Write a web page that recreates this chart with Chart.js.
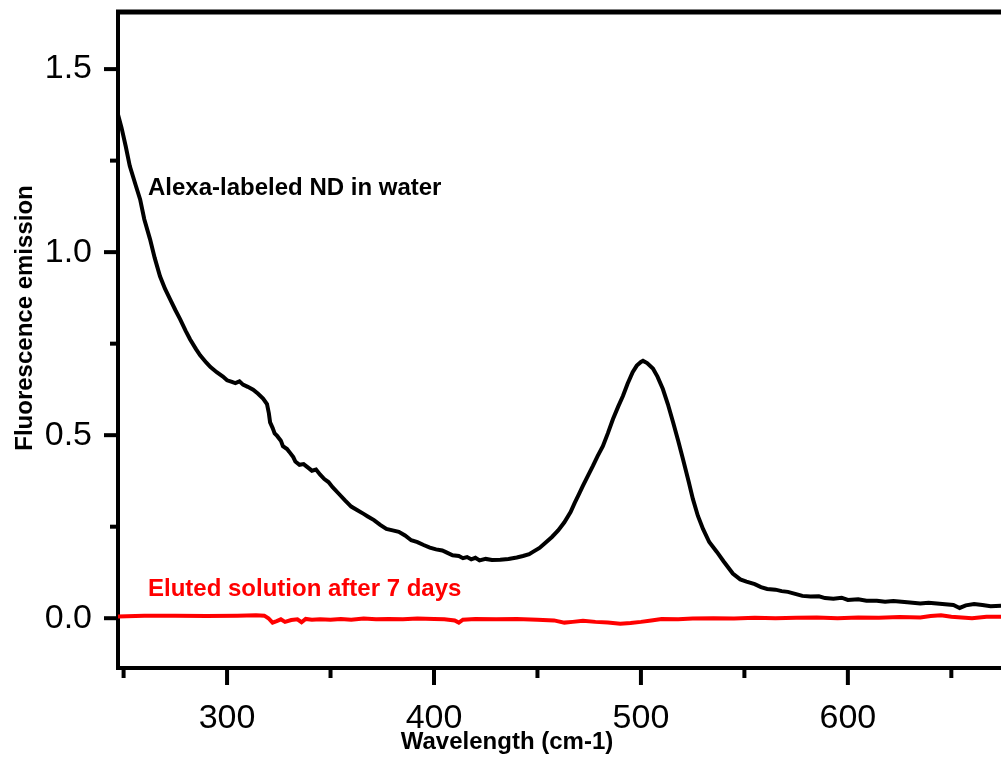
<!DOCTYPE html>
<html lang="en">
<head>
    <meta charset="UTF-8">
    <title>Fluorescence emission</title>
    <script src="https://cdn.jsdelivr.net/npm/chart.js"></script>
    <style>
        html, body { margin: 0; padding: 0; background: #fff; overflow: hidden; }
        #wrap { position: relative; width: 1001px; height: 757px; }
    </style>
</head>
<body>
    <div id="wrap"><canvas id="chart" width="1001" height="757"></canvas></div>

    <script>
        // Alexa-labeled ND in water (black trace)
        const alexaX = [247.3, 249, 251, 253, 256, 258, 260, 262.8, 265, 267.6, 270, 272.5, 275, 277.3, 280, 282.1,
            285, 287, 290, 292, 295, 298, 300, 302, 304, 306, 307.7, 310, 312.6, 315, 317.4, 319.3, 320.2, 320.8,
            322, 323, 324.2, 326, 327, 329, 330, 332, 333, 335, 337, 339, 341, 343, 345, 347, 349, 351, 354, 357,
            360, 363, 366, 368, 371, 374, 377, 380, 383, 386, 389, 392, 395, 398, 401, 404, 406, 409, 412, 414,
            416, 418, 420, 422, 425, 428, 432, 436, 440, 443, 446, 448, 451, 454, 457, 460, 463, 466, 468, 470,
            472, 474, 476.8, 479, 481.6, 484, 486.5, 489, 491.3, 493.5, 496, 498, 500, 501, 503, 505.8, 508, 510.6,
            513, 515.5, 518, 520.3, 523, 525.1, 527.5, 530, 533, 536.7, 540, 544.4, 548, 551, 555, 558, 561, 565,
            568, 571, 575, 578, 582, 586, 589, 593, 597, 600, 605, 609, 614, 618, 622, 626, 630, 635, 639, 643,
            647, 651, 654, 657, 661, 665, 669, 674];
        const alexaY = [1.376, 1.34, 1.29, 1.235, 1.18, 1.144, 1.09, 1.035, 0.985, 0.934, 0.90, 0.871, 0.842, 0.817, 0.785, 0.762,
            0.735, 0.718, 0.698, 0.686, 0.672, 0.660, 0.650, 0.646, 0.642, 0.647, 0.638, 0.632, 0.624, 0.613, 0.600, 0.585, 0.560, 0.535,
            0.520, 0.505, 0.498, 0.485, 0.470, 0.462, 0.455, 0.440, 0.428, 0.419, 0.421, 0.412, 0.403, 0.406, 0.392, 0.380, 0.372, 0.358, 0.340, 0.322,
            0.305, 0.295, 0.285, 0.278, 0.268, 0.255, 0.244, 0.240, 0.236, 0.226, 0.213, 0.208, 0.200, 0.193, 0.188, 0.185, 0.180, 0.172, 0.170, 0.164,
            0.167, 0.161, 0.165, 0.158, 0.162, 0.159, 0.160, 0.162, 0.166, 0.170, 0.175, 0.182, 0.192, 0.207, 0.222, 0.240, 0.262, 0.290, 0.315, 0.338,
            0.362, 0.385, 0.416, 0.442, 0.470, 0.505, 0.544, 0.578, 0.607, 0.640, 0.672, 0.690, 0.700, 0.703, 0.697, 0.682, 0.660, 0.626,
            0.585, 0.536, 0.485, 0.435, 0.375, 0.326, 0.280, 0.244, 0.208, 0.181, 0.155, 0.122, 0.106, 0.100, 0.093, 0.085, 0.080, 0.078,
            0.074, 0.072, 0.066, 0.061, 0.059, 0.060, 0.055, 0.053, 0.056, 0.050, 0.052, 0.048, 0.048, 0.045, 0.047, 0.045, 0.043, 0.040, 0.042, 0.040,
            0.038, 0.036, 0.028, 0.035, 0.039, 0.036, 0.033, 0.034];

        // Eluted solution after 7 days (red trace)
        const elutedX = [247.3, 260, 275, 290, 305, 314, 318, 320, 322, 324, 326, 328, 331, 334, 336, 338, 341, 345, 350,
            355, 360, 366, 372, 378, 385, 392, 400, 405, 410, 412, 414, 420, 430, 440, 450, 458, 463, 467, 472, 478,
            484, 490, 495, 500, 505, 510, 518, 525, 535, 545, 555, 565, 575, 585, 595, 605, 615, 625, 635, 640, 645,
            650, 655, 660, 667, 674];
        const elutedY = [0.005, 0.007, 0.007, 0.006, 0.007, 0.008, 0.007, 0.000, -0.012, -0.008, -0.003, -0.010, -0.005, -0.003, -0.011, -0.002, -0.004, -0.003, -0.004,
            -0.002, -0.004, -0.001, -0.003, -0.002, -0.003, -0.001, -0.002, -0.003, -0.006, -0.012, -0.004, -0.002, -0.003, -0.002, -0.004, -0.006, -0.012, -0.010, -0.007, -0.010,
            -0.012, -0.015, -0.013, -0.010, -0.006, -0.002, -0.003, -0.001, 0.000, -0.001, 0.001, 0.000, 0.001, 0.002, 0.000, 0.002, 0.001, 0.003, 0.002, 0.006, 0.008,
            0.004, 0.002, 0.000, 0.004, 0.004];

        const xMajorTicks = [300, 400, 500, 600];
        const xMinorTicks = [250, 350, 450, 550, 650];
        const yMajorTicks = [0, 0.5, 1.0, 1.5];
        const yMinorTicks = [0.25, 0.75, 1.25];

        const xTitle = "Wavelength (cm-1)";
        const yTitle = "Fluorescence emission";
        const alexaLabel = "Alexa-labeled ND in water";
        const elutedLabel = "Eluted solution after 7 days";

        const toPoints = (xs, ys) => xs.map((x, i) => ({ x: x, y: ys[i] }));
        const labelFont = "bold 24px 'Liberation Sans', Arial, sans-serif";

        // frame, tick marks, axis titles and in-plot labels
        const framePlugin = {
            id: "frame",
            afterDraw(chart) {
                const ctx = chart.ctx;
                const area = chart.chartArea;
                const xs = chart.scales.x;
                const ys = chart.scales.y;
                ctx.save();
                ctx.strokeStyle = "#000";
                ctx.lineCap = "butt";

                // top border
                ctx.lineWidth = 5;
                ctx.beginPath();
                ctx.moveTo(area.left - 2, area.top);
                ctx.lineTo(area.right, area.top);
                ctx.stroke();

                ctx.lineWidth = 4;
                const tick = (x1, y1, x2, y2) => {
                    ctx.beginPath(); ctx.moveTo(x1, y1); ctx.lineTo(x2, y2); ctx.stroke();
                };
                xMajorTicks.forEach(v => { const p = xs.getPixelForValue(v); tick(p, area.bottom, p, area.bottom + 17); });
                xMinorTicks.forEach(v => { const p = xs.getPixelForValue(v); tick(p, area.bottom, p, area.bottom + 10); });
                yMajorTicks.forEach(v => { const p = ys.getPixelForValue(v); tick(area.left, p, area.left - 14, p); });
                yMinorTicks.forEach(v => { const p = ys.getPixelForValue(v); tick(area.left, p, area.left - 8, p); });

                // axis titles
                ctx.fillStyle = "#000";
                ctx.font = labelFont;
                ctx.textAlign = "center";
                ctx.textBaseline = "middle";
                ctx.fillText(xTitle, 507, 742);
                ctx.save();
                ctx.translate(25, 318);
                ctx.rotate(-Math.PI / 2);
                ctx.fillText(yTitle, 0, 0);
                ctx.restore();

                // series labels
                ctx.textAlign = "left";
                ctx.fillStyle = "#000";
                ctx.fillText(alexaLabel, 148, 188);
                ctx.fillStyle = "#ff0000";
                ctx.fillText(elutedLabel, 148, 589);
                ctx.restore();
            }
        };

        new Chart(document.getElementById("chart"), {
            type: "line",
            data: {
                datasets: [
                    {
                        label: alexaLabel,
                        data: toPoints(alexaX, alexaY),
                        borderColor: "#000",
                        borderWidth: 4,
                        pointRadius: 0,
                        tension: 0
                    },
                    {
                        label: elutedLabel,
                        data: toPoints(elutedX, elutedY),
                        borderColor: "#ff0000",
                        borderWidth: 4,
                        pointRadius: 0,
                        tension: 0
                    }
                ]
            },
            options: {
                responsive: false,
                animation: false,
                layout: { padding: { top: 12, right: 0, left: 0, bottom: 0 } },
                plugins: { legend: { display: false }, tooltip: { enabled: false } },
                scales: {
                    x: {
                        type: "linear",
                        min: 247.3,
                        max: 674,
                        afterBuildTicks: s => { s.ticks = xMajorTicks.map(v => ({ value: v })); },
                        afterFit: s => { s.height = 89; s.paddingLeft = 0; s.paddingRight = 0; },
                        grid: { drawOnChartArea: false, drawTicks: false },
                        border: { color: "#000", width: 4 },
                        ticks: {
                            color: "#000",
                            padding: 30,
                            maxRotation: 0,
                            font: { family: "'Liberation Sans', Arial, sans-serif", size: 34 }
                        }
                    },
                    y: {
                        min: -0.136,
                        max: 1.656,
                        afterBuildTicks: s => { s.ticks = yMajorTicks.map(v => ({ value: v })); },
                        afterFit: s => { s.width = 118; s.paddingTop = 0; s.paddingBottom = 0; },
                        grid: { drawOnChartArea: false, drawTicks: false },
                        border: { color: "#000", width: 4 },
                        ticks: {
                            color: "#000",
                            padding: 26,
                            callback: v => v.toFixed(1),
                            font: { family: "'Liberation Sans', Arial, sans-serif", size: 34 }
                        }
                    }
                }
            },
            plugins: [framePlugin]
        });
    </script>
</body>
</html>
